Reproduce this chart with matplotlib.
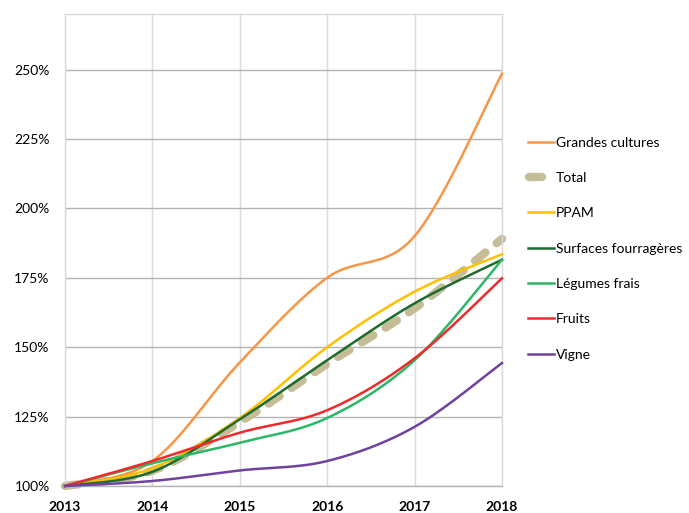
import numpy as np
import matplotlib
matplotlib.use("Agg")
import matplotlib.pyplot as plt
from matplotlib.ticker import FuncFormatter
from matplotlib.lines import Line2D
from matplotlib.legend_handler import HandlerLine2D

plt.rcParams['font.family'] = ['Lato', 'DejaVu Sans']

years = [2013, 2014, 2015, 2016, 2017, 2018]
series_names = ["Grandes cultures", "Total", "PPAM", "Surfaces fourragères",
                "Légumes frais", "Fruits", "Vigne"]
grandes_cultures = [100, 109, 144.5, 175, 190, 248.5]
total = [100, 105.5, 123, 144, 164, 189]
ppam = [100, 106.4, 124.5, 150, 170, 183.5]
surfaces_fourrageres = [100, 105.1, 124, 145.3, 165.8, 181.5]
legumes_frais = [100, 108.2, 115.6, 124.5, 145.3, 181.5]
fruits = [100, 109, 119.2, 127.3, 146, 174.8]
vigne = [100, 101.8, 105.6, 109, 121.3, 144.3]

colors = ["#F79646", "#C4BD97", "#FFC000", "#1E6B2E", "#2DB665", "#EE2A2A", "#7042A0"]
values = [grandes_cultures, total, ppam, surfaces_fourrageres, legumes_frais, fruits, vigne]


def smooth(x, y, n=30):
    x = np.asarray(x, float)
    y = np.asarray(y, float)
    P = np.column_stack([x, y])
    pts = []
    for i in range(len(P) - 1):
        p0 = P[i - 1] if i > 0 else P[i]
        p1 = P[i]
        p2 = P[i + 1]
        p3 = P[i + 2] if i + 2 < len(P) else P[i + 1]
        b1 = p1 + (p2 - p0) / 6
        b2 = p2 - (p3 - p1) / 6
        t = np.linspace(0, 1, n)[:, None]
        seg = ((1 - t) ** 3) * p1 + 3 * ((1 - t) ** 2) * t * b1 + 3 * (1 - t) * t ** 2 * b2 + t ** 3 * p2
        if i > 0:
            seg = seg[1:]
        pts.append(seg)
    pts = np.vstack(pts)
    return pts[:, 0], pts[:, 1]


class ShortHandler(HandlerLine2D):
    def create_artists(self, legend, orig_handle, xdescent, ydescent, width, height, fontsize, trans):
        arts = super().create_artists(legend, orig_handle, xdescent, ydescent, width, height, fontsize, trans)
        for a in arts:
            xd = np.asarray(a.get_xdata(), float)
            if len(xd) >= 2:
                x0, x1 = xd[0], xd[-1]
                a.set_xdata(np.linspace(x0 + 0.05 * (x1 - x0), x0 + 0.55 * (x1 - x0), len(xd)))
        return arts


fig = plt.figure(figsize=(6.89, 5.13), dpi=100)
ax = fig.add_axes([65 / 689, 1 - 486 / 513, (502 - 65) / 689, (486 - 14) / 513])

for name, vals, c in zip(series_names, values, colors):
    sx, sy = smooth(years, vals)
    if name == "Total":
        ln, = ax.plot(sx, sy, color=c, lw=6, solid_capstyle='round',
                      dash_capstyle='round', clip_on=False, zorder=2)
        ln.set_dashes((1.6, 1.75))
    else:
        ax.plot(sx, sy, color=c, lw=1.8, clip_on=False, zorder=3)

ax.set_xlim(2013, 2018)
ax.set_ylim(100, 270)
ax.set_yticks([100, 125, 150, 175, 200, 225, 250])
ax.yaxis.set_major_formatter(FuncFormatter(lambda v, p: f"{int(v)}%"))
ax.set_xticks(years)
ax.set_xticklabels([str(y) for y in years], fontweight='bold')
ax.tick_params(axis='both', length=0, labelsize=10, colors='black')
ax.tick_params(axis='y', pad=11)
ax.tick_params(axis='x', pad=11)

ax.grid(axis='y', color='#B3B3B3', lw=1)
ax.grid(axis='x', color='#D9D9D9', lw=1)
ax.set_axisbelow(True)
for s in ax.spines.values():
    s.set_color('#D9D9D9')
    s.set_linewidth(1)
ax.spines['bottom'].set_color('#B3B3B3')

leg_handles = []
for name, c in zip(series_names, colors):
    if name == "Total":
        leg_handles.append(Line2D([], [], color=c, lw=6, solid_capstyle='round'))
    else:
        leg_handles.append(Line2D([], [], color=c, lw=1.8))

fig.legend(leg_handles, series_names, loc='upper left', bbox_to_anchor=(522 / 689, 1 - 131 / 513),
           frameon=False, fontsize=10, handlelength=1.9, handletextpad=0.15,
           labelspacing=1.68, borderaxespad=0, borderpad=0.4,
           handler_map={leg_handles[1]: ShortHandler()})

fig.savefig("out.png", dpi=100)
